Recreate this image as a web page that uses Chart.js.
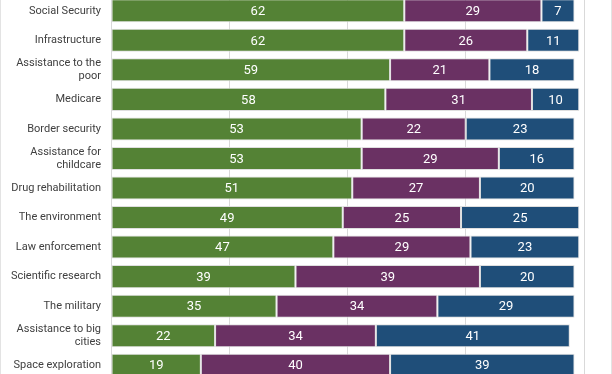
<!DOCTYPE html>
<html>
<head>
<meta charset="utf-8">
<script src="https://cdn.jsdelivr.net/npm/chart.js@4/dist/chart.umd.min.js"></script>
<style>
	html, body { margin: 0; padding: 0; background: #fff; overflow: hidden; }
	.frame {
		position: relative; width: 612px; height: 374px; overflow: hidden;
		box-sizing: border-box; border-left: 1px solid #e3e3e3; border-right: 1px solid #e3e3e3;
	}
	.box { position: absolute; left: -1px; top: -4px; width: 612px; height: 384px; }
</style>
</head>
<body>
<div class="frame"><div class="box"><canvas id="bars"></canvas></div></div>
<script>
// Вопросы и доли ответов
const categories = [
	'Social Security', 'Infrastructure', ['Assistance to the', 'poor'], 'Medicare',
	'Border security', ['Assistance for', 'childcare'], 'Drug rehabilitation',
	'The environment', 'Law enforcement', 'Scientific research', 'The military',
	['Assistance to big', 'cities'], 'Space exploration'
]
const greenValues = [62, 62, 59, 58, 53, 53, 51, 49, 47, 39, 35, 22, 19]
const purpleValues = [29, 26, 21, 31, 22, 29, 27, 25, 29, 39, 34, 34, 40]
const blueValues = [7, 11, 18, 10, 23, 16, 20, 25, 23, 20, 29, 41, 39]

const seriesColors = ['#548235', '#6a3163', '#1f4e79']

// подписи внутри сегментов
const insideLabels = {
	id: 'insideLabels',
	afterDatasetsDraw(chart) {
		const c = chart.ctx
		c.save()
		c.fillStyle = '#ffffff'
		c.font = '13px Roboto'
		c.textAlign = 'center'
		c.textBaseline = 'middle'
		chart.data.datasets.forEach((ds, i) => {
			chart.getDatasetMeta(i).data.forEach((bar, j) => {
				const p = bar.getProps(['x', 'y', 'base'], true)
				c.fillText(ds.data[j], (p.x + p.base) / 2, p.y + 1)
			})
		})
		c.restore()
	}
}

function makeSet(values, color) {
	return {
		data: values,
		backgroundColor: color,
		borderColor: 'rgba(220,220,220,0.9)',
		borderWidth: 1,
		borderSkipped: false,
		categoryPercentage: 0.78,
		barPercentage: 1
	}
}

const ctx = document.getElementById('bars').getContext('2d')
const chart = new Chart(ctx, {
	type: 'bar',
	data: {
		labels: categories,
		datasets: [
			makeSet(greenValues, seriesColors[0]),
			makeSet(purpleValues, seriesColors[1]),
			makeSet(blueValues, seriesColors[2])
		]
	},
	options: {
		indexAxis: 'y',
		responsive: true,
		maintainAspectRatio: false,
		animation: false,
		layout: { padding: { left: 0, right: 28, top: 0, bottom: 0 } },
		plugins: { legend: { display: false }, tooltip: { enabled: false } },
		scales: {
			x: {
				stacked: true,
				min: 0,
				max: 100,
				afterFit(scale) { scale.height = 0 },
				ticks: { display: false, stepSize: 25 },
				grid: { color: '#d9d9d9', drawTicks: false },
				border: { display: false }
			},
			y: {
				stacked: true,
				afterFit(scale) {
					scale.width = 111
					scale.paddingTop = 0
					scale.paddingBottom = 0
				},
				ticks: {
					autoSkip: false,
					color: '#404040',
					padding: 10,
					font: { family: 'Roboto', size: 11 }
				},
				grid: { display: false, drawTicks: false },
				border: { display: false }
			}
		}
	},
	plugins: [insideLabels]
})
</script>
</body>
</html>
